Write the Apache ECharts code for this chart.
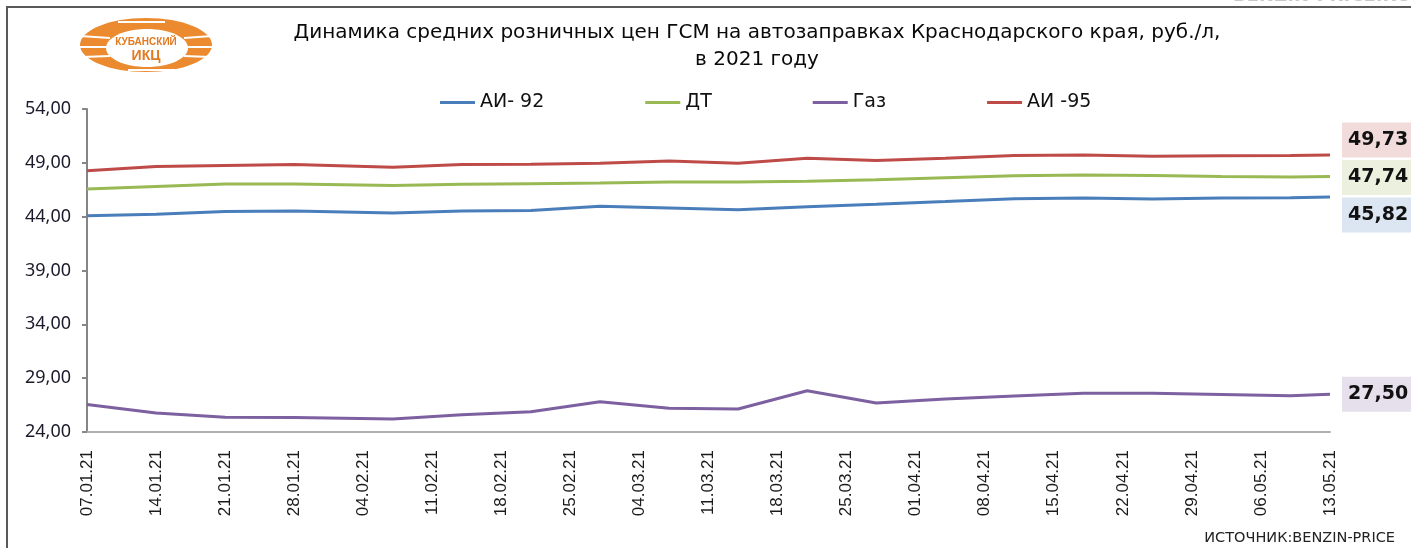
<!DOCTYPE html>
<html>
<head>
<meta charset="utf-8">
<script src="https://cdn.jsdelivr.net/npm/echarts@6/dist/echarts.min.js"></script>
<style>
html,body{margin:0;padding:0;background:#fff;}
#chart{width:1411px;height:548px;}
</style>
</head>
<body>
<div id="chart"></div>
<script>
// ---- data ----
const tickLabels = ['07.01.21','14.01.21','21.01.21','28.01.21','04.02.21','11.02.21','18.02.21','25.02.21','04.03.21','11.03.21','18.03.21','25.03.21','01.04.21','08.04.21','15.04.21','22.04.21','29.04.21','06.05.21','13.05.21'];
const pointDates = ['07.01.21','14.01.21','21.01.21','28.01.21','07.02.21','14.02.21','21.02.21','28.02.21','07.03.21','14.03.21','21.03.21','28.03.21','04.04.21','11.04.21','18.04.21','25.04.21','02.05.21','09.05.21','13.05.21'];
const seriesNames = ['АИ- 92','ДТ','Газ','АИ -95'];
const ai92 = [44.09,44.22,44.49,44.52,44.34,44.52,44.58,44.96,44.80,44.65,44.93,45.15,45.40,45.67,45.73,45.64,45.73,45.76,45.82];
const dt   = [46.57,46.81,47.03,47.03,46.90,47.00,47.06,47.12,47.21,47.21,47.30,47.43,47.62,47.80,47.86,47.83,47.74,47.68,47.74];
const gas  = [26.55,25.76,25.36,25.35,25.20,25.60,25.88,26.80,26.20,26.13,27.83,26.69,27.06,27.35,27.60,27.60,27.49,27.36,27.50];
const ai95 = [48.26,48.66,48.75,48.84,48.60,48.84,48.88,48.97,49.16,48.97,49.43,49.21,49.43,49.68,49.73,49.62,49.65,49.68,49.73];

function dayIndex(s){
  const p = s.split('.');
  return (Date.UTC(2000+ +p[2], +p[1]-1, +p[0]) - Date.UTC(2021,0,7)) / 86400000;
}
const xs = pointDates.map(dayIndex);
function pairs(vals){ return vals.map((v,i)=>[xs[i], v]); }
function fmt(v){ return v.toFixed(2).replace('.', ','); }

const colors = ['#4a7ebb','#98b954','#7d60a0','#be4b48'];
const boxColors = ['#dce6f2','#ebf1de','#e5e0ec','#f2dcdb'];
const labelOffsets = [[0,18],[0,1],[0,0],[0,-15]];
const allData = [ai92, dt, gas, ai95];

const chart = echarts.init(document.getElementById('chart'), null, {renderer:'canvas'});

const series = allData.map((d, k) => ({
  name: seriesNames[k],
  type: 'line',
  data: pairs(d),
  symbol: 'none',
  smooth: false,
  lineStyle: {color: colors[k], width: 3},
  itemStyle: {color: colors[k]},
  endLabel: {
    show: true,
    formatter: p => fmt(p.value[1]),
    distance: 12,
    offset: labelOffsets[k],
    backgroundColor: boxColors[k],
    padding: [8, 7, 8, 6],
    fontFamily: 'DejaVu Sans',
    fontWeight: 'bold',
    fontSize: 19,
    color: '#111'
  }
}));

const option = {
  animation: false,
  backgroundColor: '#fff',
  grid: {left: 87, right: 81, top: 109, bottom: 116, containLabel: false},
  legend: {
    data: seriesNames,
    left: 435,
    top: 88,
    icon: 'rect',
    itemWidth: 35,
    itemHeight: 3,
    itemGap: 101,
    textStyle: {fontFamily: 'DejaVu Sans', fontSize: 19, color: '#111'}
  },
  xAxis: {
    type: 'value',
    min: 0,
    max: 126,
    interval: 7,
    axisLine: {show: true, lineStyle: {color: '#b0b0b0', width: 2}},
    axisTick: {show: false},
    splitLine: {show: false},
    axisLabel: {
      rotate: 90,
      margin: 18,
      formatter: v => tickLabels[Math.round(v/7)],
      fontFamily: 'Liberation Sans',
      fontSize: 17,
      color: '#1a1a1a'
    }
  },
  yAxis: {
    type: 'value',
    min: 24,
    max: 54,
    interval: 5,
    axisLine: {show: true, lineStyle: {color: '#868686', width: 2}},
    axisTick: {show: true, length: 5, lineStyle: {color: '#868686', width: 2}},
    splitLine: {show: false},
    axisLabel: {
      margin: 16,
      formatter: v => fmt(v),
      fontFamily: 'Noto Sans',
      fontSize: 18,
      color: '#1a1a2a'
    }
  },
  graphic: [
    {type: 'rect', shape: {x: 7, y: 7, width: 1420, height: 560}, style: {fill: 'none', stroke: '#595959', lineWidth: 2}, z: 100},
    {type: 'text', x: 1411, y: 5, style: {text: 'BENZIN-PRICE.RU', textAlign: 'right', textVerticalAlign: 'bottom', fill: '#c8c8c8', font: 'bold 18px "DejaVu Sans"'}},
    {type: 'text', x: 757, y: 33, style: {text: 'Динамика средних розничных цен ГСМ на автозаправках Краснодарского края, руб./л,', textAlign: 'center', textVerticalAlign: 'middle', fill: '#0a0a0a', font: '20px "DejaVu Sans"'}},
    {type: 'text', x: 757, y: 60, style: {text: 'в 2021 году', textAlign: 'center', textVerticalAlign: 'middle', fill: '#0a0a0a', font: '20px "DejaVu Sans"'}},
    {type: 'text', x: 1395, y: 538, style: {text: 'ИСТОЧНИК:BENZIN-PRICE', textAlign: 'right', textVerticalAlign: 'middle', fill: '#222', font: '14.5px "DejaVu Sans"'}},
    // logo
    {type: 'ellipse', shape: {cx: 146, cy: 45, rx: 66, ry: 27}, style: {fill: '#ec8a30'}},
    {type: 'ellipse', shape: {cx: 147, cy: 48, rx: 41, ry: 19}, style: {fill: '#fff'}},
    {type: 'line', shape: {x1: 80, y1: 36, x2: 110, y2: 38}, style: {stroke: '#fff', lineWidth: 2}},
    {type: 'line', shape: {x1: 80, y1: 47, x2: 108, y2: 47}, style: {stroke: '#fff', lineWidth: 2}},
    {type: 'line', shape: {x1: 82, y1: 57, x2: 110, y2: 56}, style: {stroke: '#fff', lineWidth: 2}},
    {type: 'line', shape: {x1: 212, y1: 36, x2: 184, y2: 38}, style: {stroke: '#fff', lineWidth: 2}},
    {type: 'line', shape: {x1: 212, y1: 47, x2: 186, y2: 47}, style: {stroke: '#fff', lineWidth: 2}},
    {type: 'line', shape: {x1: 210, y1: 57, x2: 184, y2: 56}, style: {stroke: '#fff', lineWidth: 2}},
    {type: 'line', shape: {x1: 118, y1: 22, x2: 165, y2: 22}, style: {stroke: '#fff', lineWidth: 2}},
    {type: 'line', shape: {x1: 128, y1: 70, x2: 175, y2: 70}, style: {stroke: '#fff', lineWidth: 2}},
    {type: 'text', x: 146, y: 42, style: {text: 'КУБАНСКИЙ', textAlign: 'center', textVerticalAlign: 'middle', fill: '#e27a20', font: 'bold 10px "Liberation Sans"'}},
    {type: 'text', x: 146, y: 56, style: {text: 'ИКЦ', textAlign: 'center', textVerticalAlign: 'middle', fill: '#e27a20', font: 'bold 14px "Liberation Sans"'}}
  ],
  series: series
};
chart.setOption(option);
</script>
</body>
</html>
